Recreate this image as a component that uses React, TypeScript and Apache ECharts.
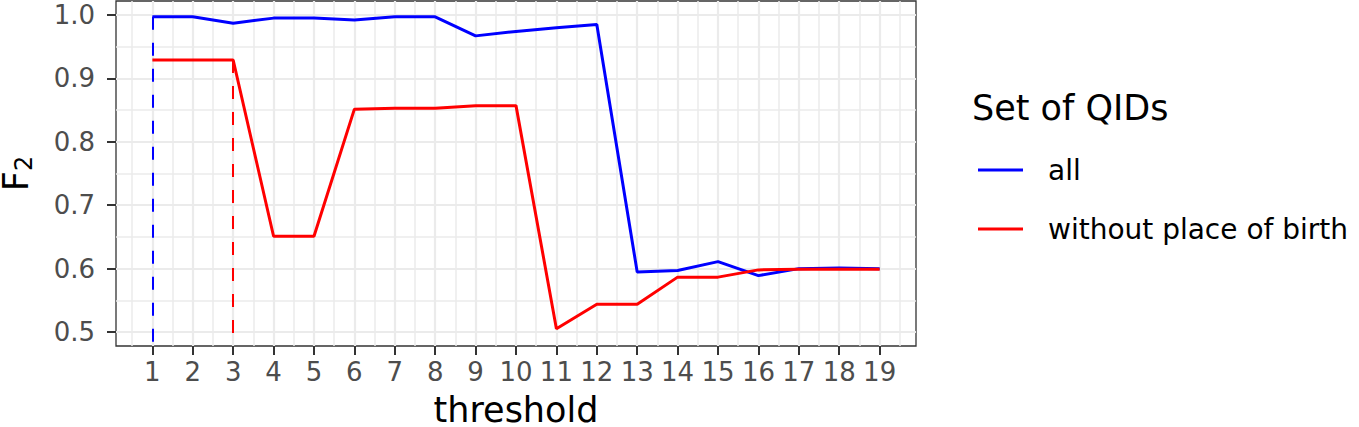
import React, { useEffect, useRef } from "react";
import * as echarts from "echarts";

const thresholds = [1, 2, 3, 4, 5, 6, 7, 8, 9, 10, 11, 12, 13, 14, 15, 16, 17, 18, 19];
const f2All = [0.997, 0.997, 0.987, 0.995, 0.995, 0.992, 0.997, 0.997, 0.967, 0.974, 0.98, 0.985, 0.5945, 0.597, 0.611, 0.589, 0.6, 0.601, 0.6];
const f2NoBirth = [0.929, 0.929, 0.929, 0.651, 0.651, 0.8515, 0.853, 0.853, 0.8567, 0.857, 0.5053, 0.5437, 0.5437, 0.5866, 0.5866, 0.598, 0.599, 0.599, 0.599];
const seriesNames = ["all", "without place of birth"];
const seriesColors = ["#0000ff", "#ff0000"];
const chosenThreshold = [1, 3];

const xMajor = thresholds;
const xMinor = [0.5, 1.5, 2.5, 3.5, 4.5, 5.5, 6.5, 7.5, 8.5, 9.5, 10.5, 11.5, 12.5, 13.5, 14.5, 15.5, 16.5, 17.5, 18.5, 19.5];
const yMajor = [0.5, 0.6, 0.7, 0.8, 0.9, 1.0];
const yMinor = [0.55, 0.65, 0.75, 0.85, 0.95];
const xRange = [0.1, 19.9];
const yRange = [0.478, 1.022];

const FONT = "DejaVu Sans";

export default function App() {
  const ref = useRef<HTMLDivElement>(null);
  useEffect(() => {
    if (!ref.current) return;
    const chart = echarts.init(ref.current, null, { renderer: "svg" });
    const gridColor = "#ebebeb";
    const toPairs = (vals: number[]) => thresholds.map((t, i) => [t, vals[i]]);
    const dashed = (idx: number, vals: number[]) => ({
      silent: true,
      symbol: "none",
      label: { show: false },
      lineStyle: { type: [13, 13], width: 2, color: seriesColors[idx], opacity: 1 },
      emphasis: { disabled: true },
      data: [
        [
          { coord: [chosenThreshold[idx], vals[thresholds.indexOf(chosenThreshold[idx])]] },
          { coord: [chosenThreshold[idx], yRange[0]] },
        ],
      ],
    });
    chart.setOption({
      animation: false,
      backgroundColor: "#ffffff",
      textStyle: { fontFamily: FONT },
      grid: {
        left: 116,
        top: 1,
        width: 800,
        height: 345,
        show: true,
        borderColor: "#333333",
        borderWidth: 1.3,
        backgroundColor: "#ffffff",
        containLabel: false,
        outerBoundsMode: "none",
      },
      legend: {
        orient: "vertical",
        left: 978,
        top: 155,
        itemWidth: 45,
        itemHeight: 3,
        itemGap: 29,
        icon: "rect",
        selectedMode: false,
        padding: 0,
        data: seriesNames,
        textStyle: {
          fontFamily: FONT,
          fontSize: 28,
          lineHeight: 30,
          color: "#000000",
          padding: [0, 0, 0, 20],
        },
      },
      graphic: [
        {
          type: "text",
          x: 972,
          y: 108,
          style: {
            text: "Set of QIDs",
            fontFamily: FONT,
            fontSize: 35,
            fill: "#000000",
            textAlign: "left",
            textVerticalAlign: "middle",
            verticalAlign: "middle",
          },
        },
      ],
      xAxis: [
        {
          type: "value",
          min: xRange[0],
          max: xRange[1],
          name: "threshold",
          nameLocation: "middle",
          nameGap: 46,
          nameTextStyle: { fontFamily: FONT, fontSize: 35, color: "#000000" },
          axisLine: { show: false },
          axisTick: { show: true, customValues: xMajor, length: 9, lineStyle: { color: "#333333", width: 2 } },
          axisLabel: {
            customValues: xMajor,
            margin: 13,
            fontFamily: FONT,
            fontSize: 26,
            color: "#4d4d4d",
            formatter: (v: number) => String(Math.round(v)),
          },
          splitLine: { show: true, lineStyle: { color: gridColor, width: 2.2 } },
        },
        {
          type: "value",
          min: xRange[0],
          max: xRange[1],
          position: "top",
          axisLine: { show: false },
          axisTick: { show: false, customValues: xMinor },
          axisLabel: { show: false, customValues: xMinor },
          splitLine: { show: true, lineStyle: { color: gridColor, width: 1.5 } },
        },
      ],
      yAxis: [
        {
          type: "value",
          min: yRange[0],
          max: yRange[1],
          name: "{f|F}{s|2}",
          nameLocation: "middle",
          nameRotate: 90,
          nameGap: 80,
          nameTextStyle: {
            color: "#000000",
            rich: {
              f: { fontFamily: FONT, fontSize: 35, color: "#000000" },
              s: { fontFamily: FONT, fontSize: 24, color: "#000000", padding: [16, 0, 0, 0] },
            },
          },
          axisLine: { show: false },
          axisTick: { show: true, customValues: yMajor, length: 9, lineStyle: { color: "#333333", width: 2 } },
          axisLabel: {
            customValues: yMajor,
            margin: 21,
            fontFamily: FONT,
            fontSize: 26,
            color: "#4d4d4d",
            formatter: (v: number) => v.toFixed(1),
          },
          splitLine: { show: true, lineStyle: { color: gridColor, width: 2.2 } },
        },
        {
          type: "value",
          min: yRange[0],
          max: yRange[1],
          position: "right",
          axisLine: { show: false },
          axisTick: { show: false, customValues: yMinor },
          axisLabel: { show: false, customValues: yMinor },
          splitLine: { show: true, lineStyle: { color: gridColor, width: 1.5 } },
        },
      ],
      series: [
        {
          name: seriesNames[0],
          type: "line",
          xAxisIndex: 0,
          yAxisIndex: 0,
          data: toPairs(f2All),
          showSymbol: false,
          symbol: "none",
          color: seriesColors[0],
          lineStyle: { color: seriesColors[0], width: 3 },
          emphasis: { disabled: true },
          markLine: dashed(0, f2All),
          z: 3,
        },
        {
          name: seriesNames[1],
          type: "line",
          xAxisIndex: 0,
          yAxisIndex: 0,
          data: toPairs(f2NoBirth),
          showSymbol: false,
          symbol: "none",
          color: seriesColors[1],
          lineStyle: { color: seriesColors[1], width: 3 },
          emphasis: { disabled: true },
          markLine: dashed(1, f2NoBirth),
          z: 4,
        },
      ],
    });
    return () => chart.dispose();
  }, []);
  return (
    <div
      ref={ref}
      style={{ position: "fixed", left: 0, top: 0, width: 1359, height: 427, background: "#ffffff" }}
    />
  );
}
